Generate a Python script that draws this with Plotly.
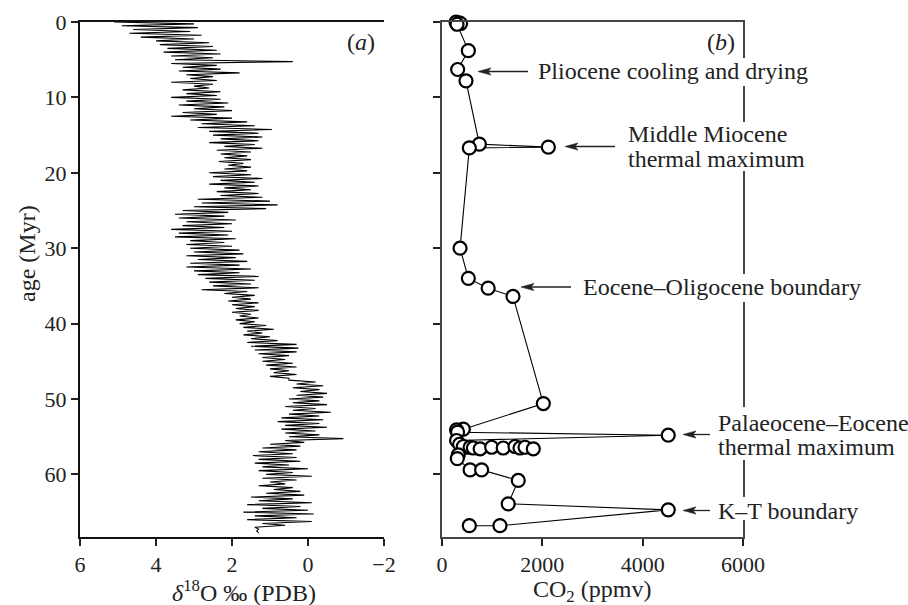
import plotly.graph_objects as go

# ---------------- data ----------------
# panel (a): benthic d18O record (age in Myr, d18O in permil)
AGE_O18 = [
    0.0, 0.25, 0.5, 0.75, 1.0, 1.25, 1.5, 1.75, 2.0, 2.25,
    2.5, 2.75, 3.0, 3.25, 3.5, 3.75, 4.0, 4.25, 4.5, 4.75,
    5.0, 5.25, 5.5, 5.75, 6.0, 6.25, 6.5, 6.75, 7.0, 7.25,
    7.5, 7.75, 8.0, 8.25, 8.5, 8.75, 9.0, 9.25, 9.5, 9.75,
    10.0, 10.25, 10.5, 10.75, 11.0, 11.25, 11.5, 11.75, 12.0, 12.25,
    12.5, 12.75, 13.0, 13.25, 13.5, 13.75, 14.0, 14.25, 14.5, 14.75,
    15.0, 15.25, 15.5, 15.75, 16.0, 16.25, 16.5, 16.75, 17.0, 17.25,
    17.5, 17.75, 18.0, 18.25, 18.5, 18.75, 19.0, 19.25, 19.5, 19.75,
    20.0, 20.25, 20.5, 20.75, 21.0, 21.25, 21.5, 21.75, 22.0, 22.25,
    22.5, 22.75, 23.0, 23.25, 23.5, 23.75, 24.0, 24.25, 24.5, 24.75,
    25.0, 25.25, 25.5, 25.75, 26.0, 26.25, 26.5, 26.75, 27.0, 27.25,
    27.5, 27.75, 28.0, 28.25, 28.5, 28.75, 29.0, 29.25, 29.5, 29.75,
    30.0, 30.25, 30.5, 30.75, 31.0, 31.25, 31.5, 31.75, 32.0, 32.25,
    32.5, 32.75, 33.0, 33.25, 33.5, 33.75, 34.0, 34.25, 34.5, 34.75,
    35.0, 35.25, 35.5, 35.75, 36.0, 36.25, 36.5, 36.75, 37.0, 37.25,
    37.5, 37.75, 38.0, 38.25, 38.5, 38.75, 39.0, 39.25, 39.5, 39.75,
    40.0, 40.25, 40.5, 40.75, 41.0, 41.25, 41.5, 41.75, 42.0, 42.25,
    42.5, 42.75, 43.0, 43.25, 43.5, 43.75, 44.0, 44.25, 44.5, 44.75,
    45.0, 45.25, 45.5, 45.75, 46.0, 46.25, 46.5, 46.75, 47.0, 47.25,
    47.5, 47.75, 48.0, 48.25, 48.5, 48.75, 49.0, 49.25, 49.5, 49.75,
    50.0, 50.25, 50.5, 50.75, 51.0, 51.25, 51.5, 51.75, 52.0, 52.25,
    52.5, 52.75, 53.0, 53.25, 53.5, 53.75, 54.0, 54.25, 54.5, 54.75,
    55.0, 55.25, 55.5, 55.75, 56.0, 56.25, 56.5, 56.75, 57.0, 57.25,
    57.5, 57.75, 58.0, 58.25, 58.5, 58.75, 59.0, 59.25, 59.5, 59.75,
    60.0, 60.25, 60.5, 60.75, 61.0, 61.25, 61.5, 61.75, 62.0, 62.25,
    62.5, 62.75, 63.0, 63.25, 63.5, 63.75, 64.0, 64.25, 64.5, 64.75,
    65.0, 65.25, 65.5, 65.75, 66.0, 66.25, 66.5, 66.75, 67.0, 67.25,
    67.5, 67.75,
]
D18O = [
    5.1, 3.0, 4.9, 2.9, 4.6, 3.1, 4.7, 2.8, 4.4, 3.0,
    4.0, 2.6, 3.9, 2.5, 3.7, 2.4, 3.8, 2.3, 3.6, 2.5,
    3.5, 0.4, 3.6, 2.4, 3.3, 2.3, 3.4, 1.8, 3.2, 2.5,
    3.1, 2.4, 3.6, 2.5, 3.0, 2.6, 3.3, 2.3, 3.2, 2.4,
    3.6, 2.3, 3.2, 2.1, 3.4, 2.2, 3.0, 2.0, 3.3, 2.4,
    3.6, 2.0, 3.1, 1.6, 2.8, 1.4, 2.9, 0.95, 2.6, 1.3,
    2.5, 1.2, 2.3, 1.3, 2.6, 1.4, 2.2, 1.2, 2.4, 1.5,
    2.3, 1.6, 2.2, 1.5, 2.35, 1.7, 2.1, 1.5, 2.2, 1.6,
    2.6, 1.5, 2.5, 1.2, 2.3, 1.4, 2.6, 1.3, 2.2, 1.5,
    2.4, 1.3, 2.3, 1.2, 2.9, 1.0, 2.8, 0.8, 3.0, 1.1,
    3.3, 2.1, 3.5, 2.2, 3.4, 1.9, 3.2, 2.0, 3.3, 2.2,
    3.6, 2.0, 3.4, 2.1, 3.5, 1.9, 3.1, 2.2, 3.2, 2.0,
    3.1, 1.8, 3.0, 1.7, 3.2, 1.9, 2.9, 1.6, 3.1, 1.8,
    3.2, 1.5, 3.0, 1.8, 2.9, 1.3, 2.7, 1.4, 2.6, 1.5,
    2.5, 1.3, 2.8, 1.6, 2.2, 1.4, 2.0, 1.5, 2.1, 1.3,
    2.0, 1.4, 1.9, 1.3, 2.0, 1.5, 1.8, 1.3, 1.9, 1.4,
    1.8, 1.1, 1.7, 0.9, 1.6, 1.2, 1.7, 1.0, 1.5, 0.8,
    1.6, 0.3, 1.5, 0.25, 1.4, 0.3, 1.3, 0.5, 1.2, 0.6,
    1.2, 0.4, 1.1, 0.3, 1.0, 0.5, 0.9, 0.3, 1.0, 0.5,
    0.5, -0.2, 0.3, -0.4, 0.4, -0.3, 0.2, -0.5, 0.3, -0.4,
    0.5, -0.3, 0.4, -0.5, 0.6, -0.2, 0.4, -0.6, 0.5, -0.3,
    0.7, -0.4, 0.8, -0.3, 0.6, -0.5, 0.7, -0.2, 0.6, -0.3,
    0.5, -0.93, 0.6, 0.1, 1.0, 0.2, 1.2, 0.3, 1.3, 0.4,
    1.45, 0.3, 1.3, 0.2, 1.4, 0.5, 1.2, 0.0, 1.3, 0.4,
    1.1, -0.1, 1.2, 0.3, 1.0, 0.6, 1.3, 0.4, 0.9, 0.2,
    1.1, 0.1, 1.5, 0.4, 1.3, -0.1, 1.6, 0.2, 1.2, 0.0,
    1.7, -0.15, 1.4, 0.3, 1.6, -0.1, 1.2, 0.6, 1.4, 1.3,
    1.35, 1.3,
]

# panel (b): CO2 proxy estimates
AGE_CO2 = [0.0, 0.1, 0.2, 0.3, 3.8, 6.3, 7.8, 16.2, 16.6, 16.7,
           30.0, 34.0, 35.3, 36.4, 50.6,
           54.0, 54.1, 54.4, 54.8, 55.5, 56.0, 56.3, 56.4, 56.5, 56.6,
           56.4, 56.5, 56.3, 56.5, 56.4, 56.6, 57.4, 57.9,
           59.4, 59.4, 60.8, 63.9, 64.7, 66.8, 66.8]
CO2 = [280, 340, 370, 300, 525, 312, 478, 745, 2120, 545,
       360, 525, 920, 1415, 2020,
       425, 290, 310, 4510, 290, 350, 425, 560, 625, 760,
       990, 1220, 1455, 1555, 1655, 1820, 325, 305,
       560, 790, 1520, 1320, 4510, 1155, 545]

X1_TICKS = [6, 4, 2, 0, -2]
X1_LABELS = ["6", "4", "2", "0", "\u22122"]
Y_TICKS = [0, 10, 20, 30, 40, 50, 60]
X2_TICKS = [0, 2000, 4000, 6000]
AGE_MAX = 68.3

# ---------------- layout helpers ----------------
W, H = 908, 605
def px(x):
    return x / W
def py(y):
    return 1 - y / H

FONT = "Liberation Serif, Times New Roman, serif"
TICKFONT = dict(family=FONT, size=22, color="#222")
ANNFONT = dict(family=FONT, size=24, color="#222")

fig = go.Figure()
fig.add_trace(go.Scatter(x=D18O, y=AGE_O18, mode="lines",
                         line=dict(color="black", width=1.1),
                         xaxis="x", yaxis="y", showlegend=False))
fig.add_trace(go.Scatter(x=CO2, y=AGE_CO2, mode="lines+markers",
                         line=dict(color="black", width=1.1),
                         marker=dict(symbol="circle", size=13, color="white",
                                     line=dict(color="black", width=2.2)),
                         cliponaxis=False,
                         xaxis="x2", yaxis="y2", showlegend=False))

ydom = [py(537), py(22)]
common = dict(showgrid=False, zeroline=False, ticks="outside", ticklen=7,
              tickwidth=1.5, tickcolor="#222", showline=True, tickfont=TICKFONT,
              automargin=False)

fig.update_layout(
    width=W, height=H, margin=dict(l=0, r=0, t=0, b=0, autoexpand=False),
    paper_bgcolor="white", plot_bgcolor="white",
    xaxis=dict(domain=[px(80), px(384)], range=[6, -2], tickvals=X1_TICKS,
               ticktext=X1_LABELS, linecolor="#111", linewidth=2, mirror=True,
               anchor="y", **common),
    yaxis=dict(domain=ydom, range=[AGE_MAX, 0], tickvals=Y_TICKS,
               linecolor="#111", linewidth=2, anchor="x", **common),
    xaxis2=dict(domain=[px(442), px(743)], range=[0, 6000], tickvals=X2_TICKS,
                linecolor="#444", linewidth=1.6, mirror=True, anchor="y2", **common),
    yaxis2=dict(domain=ydom, range=[AGE_MAX, 0], tickvals=Y_TICKS,
                showticklabels=False, linecolor="#444", linewidth=1.6,
                mirror=True, anchor="x2", **common),
)

ann = []
shapes = []
def text(x, y, t, xanchor="left", angle=0, font=ANNFONT):
    ann.append(dict(x=px(x), y=py(y), xref="paper", yref="paper", text=t,
                    showarrow=False, xanchor=xanchor, yanchor="middle",
                    textangle=angle, font=font, borderpad=0))

def gap(y0, y1):
    # white patch that breaks the right frame line behind a text label
    shapes.append(dict(type="rect", xref="paper", yref="paper",
                       x0=px(739), x1=px(747), y0=py(y1), y1=py(y0),
                       fillcolor="white", line=dict(width=0), layer="above"))

def arrow(tip, tail, y):
    # shaft
    shapes.append(dict(type="line", xref="paper", yref="paper",
                       x0=px(tip + 6), x1=px(tail), y0=py(y), y1=py(y),
                       line=dict(color="#222", width=1.3), layer="above"))
    # arrowhead (left-pointing, narrow)
    path = (f"M {px(tip)},{py(y)} L {px(tip + 13)},{py(y - 3.6)} "
            f"L {px(tip + 10)},{py(y)} L {px(tip + 13)},{py(y + 3.6)} Z")
    shapes.append(dict(type="path", xref="paper", yref="paper", path=path,
                       fillcolor="#222", line=dict(color="#222", width=0.6),
                       layer="above"))

# axis titles
text(27, 254, "age (Myr)", xanchor="center", angle=-90)
text(244, 591, "<i>\u03b4</i><sup>18</sup>O \u2030 (PDB)", xanchor="center")
text(592, 591, "CO<sub>2</sub> (ppmv)", xanchor="center")
# panel labels
text(361, 42, "(<i>a</i>)", xanchor="center")
text(721, 42, "(<i>b</i>)", xanchor="center")
# event annotations
text(537, 71, "Pliocene cooling and drying")
gap(58, 86)
arrow(478, 528, 71.5)
text(627, 134, "Middle Miocene")
text(627, 158.5, "thermal maximum")
gap(122, 171)
arrow(565, 615, 146.5)
text(582, 287, "Eocene\u2013Oligocene boundary")
gap(274, 302)
arrow(521, 571, 287)
text(717, 422.5, "Palaeocene\u2013Eocene")
text(717, 446.5, "thermal maximum")
gap(407, 460)
arrow(683, 710, 434.5)
text(717, 511, "K\u2013T boundary")
gap(497, 520)
arrow(683, 710, 510.5)

fig.update_layout(annotations=ann, shapes=shapes)
fig.write_html("out.html")
